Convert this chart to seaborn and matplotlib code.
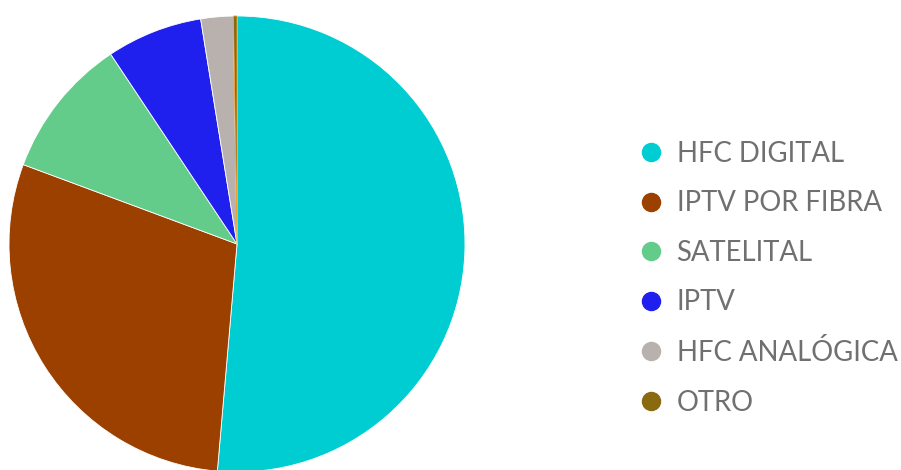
import matplotlib
matplotlib.use("Agg")
import matplotlib.pyplot as plt
from matplotlib.lines import Line2D
import seaborn as sns

# Share of pay-TV subscriptions by technology (%)
categories = ["HFC DIGITAL", "IPTV POR FIBRA", "SATELITAL", "IPTV", "HFC ANALÓGICA", "OTRO"]
shares = [51.4, 29.3, 10.0, 6.8, 2.3, 0.25]
colors = ["#00CDD2", "#9C4000", "#64CC8A", "#2020EE", "#B9B1AE", "#8A6A10"]
edge_colors = ["white", "white", "white", "white", "white", "#F0A030"]

sns.set_theme(style="white")
plt.rcParams["font.family"] = ["Lato", "DejaVu Sans"]

fig = plt.figure(figsize=(9.01, 4.70), dpi=100)
ax = fig.add_axes([9 / 901, -2 / 470, 456 / 901, 456 / 470])

wedges, _ = ax.pie(
    shares,
    colors=colors,
    startangle=90,
    counterclock=False,
    radius=1.0,
    wedgeprops=dict(linewidth=0.6, edgecolor="white"),
)
for w, ec in zip(wedges, edge_colors):
    w.set_edgecolor(ec)
ax.set_xlim(-1, 1)
ax.set_ylim(-1, 1)
ax.set_aspect("equal")
ax.axis("off")

handles = [
    Line2D([0], [0], marker="o", linestyle="none", markersize=13,
           markerfacecolor=c, markeredgecolor=c)
    for c in colors
]
fig.legend(
    handles, categories,
    loc="center left", bbox_to_anchor=(0.7071, 0.4082),
    frameon=False, fontsize=19.8, labelcolor="#707070",
    handlelength=1.0, handletextpad=0.435, labelspacing=0.86,
    borderpad=0, borderaxespad=0,
)

fig.savefig("out.png", dpi=100)
